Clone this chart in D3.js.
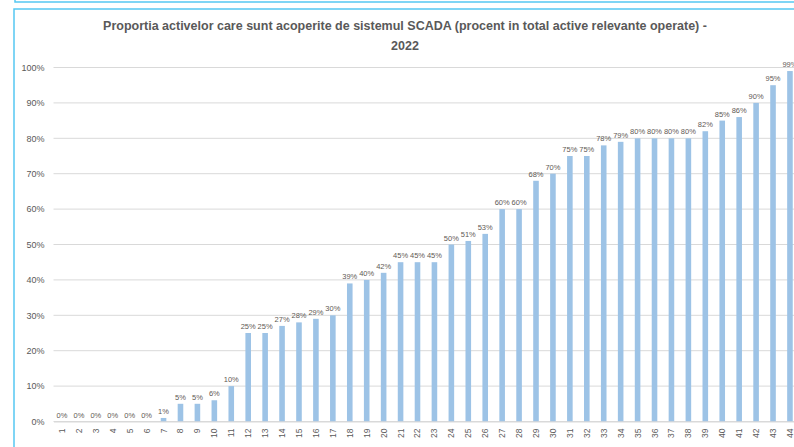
<!DOCTYPE html>
<html>
<head>
<meta charset="utf-8">
<script src="https://cdn.jsdelivr.net/npm/d3@7"></script>
<style>
  body { margin: 0; background: #fff; }
  svg { display: block; font-family: "Liberation Sans", Arial, sans-serif; }
</style>
</head>
<body>
<div id="chart"></div>
<script>
// Chart data
const categories = d3.range(1, 45).map(String);
const values = [0, 0, 0, 0, 0, 0, 1, 5, 5, 6, 10, 25, 25, 27, 28, 29, 30, 39, 40, 42,
  45, 45, 45, 50, 51, 53, 60, 60, 68, 70, 75, 75, 78, 79, 80, 80, 80, 80, 82, 85,
  86, 90, 95, 99];
const yTicks = [0, 10, 20, 30, 40, 50, 60, 70, 80, 90, 100];
const titleLines = [
  'Proportia activelor care sunt acoperite de sistemul SCADA (procent in total active relevante operate) -',
  '2022'
];

const width = 794, height = 447;
const margin = { top: 67.5, left: 53.5, bottom: 447 - 421.5 };

const svg = d3.select('#chart').append('svg')
  .attr('width', width)
  .attr('height', height);

// frames of the surrounding boxes
svg.append('path')
  .attr('d', 'M15,-5 V2 H800')
  .attr('fill', 'none').attr('stroke', '#56c8f2').attr('stroke-width', 1.5);
svg.append('path')
  .attr('d', 'M14,460 V9 H800')
  .attr('fill', 'none').attr('stroke', '#56c8f2').attr('stroke-width', 1.5);

// title
svg.append('g').selectAll('text')
  .data(titleLines)
  .join('text')
    .attr('x', 405)
    .attr('y', (d, i) => 30 + i * 20)
    .attr('text-anchor', 'middle')
    .attr('font-size', 12.5)
    .attr('font-weight', 'bold')
    .attr('fill', '#595959')
    .text(d => d);

const x = d3.scaleBand()
  .domain(categories)
  .range([margin.left, margin.left + 16.93 * categories.length])
  .paddingInner(0.67)
  .paddingOuter(0.335);

const y = d3.scaleLinear()
  .domain([0, 100])
  .range([height - margin.bottom, margin.top]);

// gridlines
svg.append('g').selectAll('line')
  .data(yTicks)
  .join('line')
    .attr('x1', margin.left)
    .attr('x2', 800)
    .attr('y1', d => y(d))
    .attr('y2', d => y(d))
    .attr('stroke', '#d9d9d9')
    .attr('stroke-width', 1);

// y axis labels
const yAxis = svg.append('g')
  .attr('transform', `translate(${margin.left - 9},0)`)
  .call(d3.axisLeft(y).tickValues(yTicks).tickFormat(d => d + '%').tickSize(0).tickPadding(0));
yAxis.select('.domain').remove();
yAxis.selectAll('text')
  .attr('font-size', 9)
  .attr('font-family', '"Liberation Sans", Arial, sans-serif')
  .attr('fill', '#595959');

// bars
svg.append('g').selectAll('rect')
  .data(values)
  .join('rect')
    .attr('x', (d, i) => x(categories[i]))
    .attr('y', d => y(d))
    .attr('width', x.bandwidth())
    .attr('height', d => y(0) - y(d))
    .attr('fill', '#9dc3e6');

// value labels
svg.append('g').selectAll('text')
  .data(values)
  .join('text')
    .attr('x', (d, i) => x(categories[i]) + x.bandwidth() / 2)
    .attr('y', d => y(d) - 4)
    .attr('text-anchor', 'middle')
    .attr('font-size', 7.5)
    .attr('fill', '#5f5a55')
    .text(d => d + '%');

// category axis, labels rotated
const xAxis = svg.append('g')
  .attr('transform', `translate(0,${y(0)})`)
  .call(d3.axisBottom(x).tickSize(0).tickPadding(0));
xAxis.select('.domain').attr('stroke', '#d9d9d9');
xAxis.selectAll('text')
  .attr('font-size', 8.5)
  .attr('font-family', '"Liberation Sans", Arial, sans-serif')
  .attr('fill', '#595959')
  .attr('text-anchor', 'end')
  .attr('dy', null)
  .attr('transform', 'translate(3,7) rotate(-90)');
</script>
</body>
</html>
